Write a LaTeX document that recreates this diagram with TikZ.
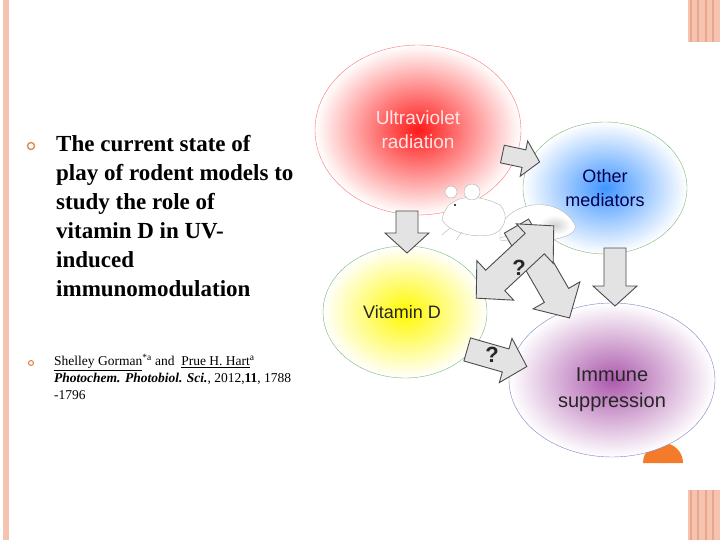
\documentclass[tikz,border=0pt]{standalone}
\usepackage{fontspec}
\setmainfont{Liberation Serif}
\newfontfamily\arialf{Liberation Sans}
\usetikzlibrary{shapes.geometric}
\definecolor{stripe}{HTML}{F5C4B0}
\definecolor{stripedk}{HTML}{EBA58A}
\definecolor{orng}{HTML}{F47B2A}
\definecolor{bul}{HTML}{E08A4A}
\tikzset{
 blk/.style={draw=gray!60!black,fill=gray!22,line width=0.9pt,line join=miter},
 qm/.style={font=\arialf\bfseries\fontsize{22}{22}\selectfont,text=black!85},
 btxt/.style={font=\bfseries\fontsize{23}{29}\selectfont,align=left,anchor=north west,inner sep=0pt},
 stxt/.style={font=\fontsize{13.5}{17}\selectfont,align=left,anchor=north west,inner sep=0pt},
 bulletc/.style={circle,draw=bul,line width=1.4pt,inner sep=0pt},
 btext/.style={font=\arialf\fontsize{19}{24}\selectfont,align=center}
}
\newcommand{\barrow}[7]{%
 \begin{scope}[shift={(#1,#2)},rotate=#3]
 \draw[blk] (-#4/2,-#5) -- (#4/2-#7,-#5) -- (#4/2-#7,-#6) -- (#4/2,0) -- (#4/2-#7,#6) -- (#4/2-#7,#5) -- (-#4/2,#5) -- cycle;
 \end{scope}}
\newcommand{\dbarrow}[7]{%
 \begin{scope}[shift={(#1,#2)},rotate=#3]
 \draw[blk] (-#4/2+#7,-#5) -- (#4/2-#7,-#5) -- (#4/2-#7,-#6) -- (#4/2,0) -- (#4/2-#7,#6) -- (#4/2-#7,#5) -- (-#4/2+#7,#5) -- (-#4/2+#7,#6) -- (-#4/2,0) -- (-#4/2+#7,-#6) -- cycle;
 \end{scope}}
\begin{document}
\begin{tikzpicture}[x=1pt,y=-1pt]
\useasboundingbox (0,0) rectangle (720,540);
\fill[white] (0,0) rectangle (720,540);
\fill[stripe] (3,0) rectangle (9,540);
\foreach \y/\h in {0/42,490/540}{
 \fill[stripe] (688,\y) rectangle (720,\h);
 \foreach \x in {690,697,705,712}{\fill[stripedk] (\x,\y) rectangle (\x+1.5,\h);}
}
\fill[orng] (643,463) arc[start angle=180,end angle=360,radius=20] -- cycle;
% text
\node[bulletc,minimum size=7pt] (b1) at (31,146) {};
\node[btxt] (t1) at (56,135) {The current state of\\play of rodent models to\\study the role of\\vitamin D in UV-\\induced\\immunomodulation};
\node[bulletc,minimum size=5pt,line width=1.1pt] (b2) at (31,363) {};
\node[stxt] (t2) at (54,354) {\underline{Shelley Gorman}\textsuperscript{*a} and\enspace \underline{Prue H. Hart}\textsuperscript{a}\\\textbf{\textit{Photochem. Photobiol. Sci.}}, 2012,\textbf{11}, 1788\\-1796};
% bubbles
\shade[inner color=red!90,outer color=white,draw=red!55] (418,130) ellipse[x radius=103,y radius=85];
\node[btext,text=white!90!red] (uv) at (418,130) {Ultraviolet\\radiation};
\shade[inner color=blue!55!cyan!75,outer color=white,draw=green!30!gray!80] (605,188) ellipse[x radius=82,y radius=66];
\node[btext,text=black!70!blue,font=\arialf\fontsize{18}{24}\selectfont] (om) at (605,188) {Other\\mediators};
\shade[inner color=yellow!95!orange,outer color=white,draw=green!30!gray!80] (405,312) ellipse[x radius=82,y radius=66];
\node[btext,text=black!85,font=\arialf\fontsize{18}{24}\selectfont] (vd) at (402,312) {Vitamin D};
\shade[inner color=violet!65,outer color=white,draw=blue!40!gray!70] (612,380) ellipse[x radius=103,y radius=77];
\node[btext,text=black!85,font=\arialf\fontsize{20}{26}\selectfont] (is) at (612,390) {Immune\\suppression};
% mouse
\draw[gray!60,fill=white] (500,228) .. controls (510,200) and (560,195) .. (575,225) .. controls (580,240) and (530,245) .. (500,240) -- cycle;
\shade[inner color=gray!35,outer color=white] (555,225) ellipse[x radius=16,y radius=10];
\draw[gray!60,fill=white] (442,220) .. controls (445,198) and (470,190) .. (500,205) .. controls (510,215) and (505,232) .. (490,235) .. controls (470,238) and (450,232) .. (442,220) -- cycle;
\draw[gray!60,fill=white] (451,192) circle[radius=6];
\draw[gray!60,fill=white] (472,192) circle[radius=8];
\fill[black] (455,205) circle[radius=1.2];
\draw[gray!60] (450,228) -- (442,235) (462,232) -- (456,240) (500,238) -- (520,232);
% block arrows
\barrow{407}{232}{-90}{42}{11}{22}{20}
\barrow{615}{277}{-90}{58}{11}{22}{20}
\barrow{521}{158}{-12}{38}{9}{18}{16}
\barrow{543}{272}{-60}{106}{14}{27}{26}
\dbarrow{515}{262}{43}{106}{14}{27}{26}
\barrow{497}{358}{-16}{62}{12}{23}{22}
\node[qm] (q1) at (519,268) {?};
\node[qm] (q2) at (492,355) {?};
\end{tikzpicture}
\end{document}
